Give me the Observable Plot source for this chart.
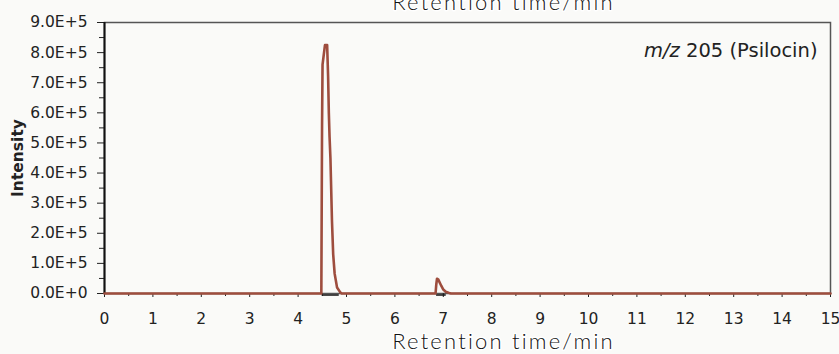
<!DOCTYPE html>
<html>
<head>
<meta charset="utf-8">
<script src="https://cdn.jsdelivr.net/npm/d3@7"></script>
<script src="https://cdn.jsdelivr.net/npm/@observablehq/plot@0.6"></script>
<style>
  html, body { margin: 0; padding: 0; background: #fafaf8; }
  #chart { width: 839px; height: 354px; overflow: hidden; }
  #chart svg { background: transparent !important; color: #222; }
</style>
</head>
<body>
<div id="chart"></div>
<script>
// Retention time (min) and intensity of the m/z 205 trace
const time = [0, 4.48, 4.495, 4.505, 4.555, 4.60, 4.62, 4.635, 4.65, 4.668, 4.70, 4.725, 4.755, 4.805, 4.875, 4.90,
              6.84, 6.855, 6.87, 6.895, 6.93, 6.96, 7.00, 7.05, 7.12, 7.16, 15];
const intensity = [0, 0, 5.6e5, 7.6e5, 8.25e5, 8.25e5, 7.2e5, 6.0e5, 5.2e5, 4.5e5, 2.4e5, 1.3e5, 0.66e5, 0.2e5, 0.03e5, 0,
                   0, 0.3e5, 0.49e5, 0.47e5, 0.35e5, 0.25e5, 0.13e5, 0.06e5, 0.02e5, 0, 0];

// Integration baselines under the peaks
const baseStart = [4.49, 6.85];
const baseEnd = [4.84, 7.05];

const xTicks = [0, 1, 2, 3, 4, 5, 6, 7, 8, 9, 10, 11, 12, 13, 14, 15];
const xTickLabels = ["0", "1", "2", "3", "4", "5", "6", "7", "8", "9", "10", "11", "12", "13", "14", "15"];
const xMinorTicks = [0.5, 1.5, 2.5, 3.5, 4.5, 5.5, 6.5, 7.5, 8.5, 9.5, 10.5, 11.5, 12.5, 13.5, 14.5];
const yTicks = [0, 1e5, 2e5, 3e5, 4e5, 5e5, 6e5, 7e5, 8e5, 9e5];
const yTickLabels = ["0.0E+0", "1.0E+5", "2.0E+5", "3.0E+5", "4.0E+5", "5.0E+5", "6.0E+5", "7.0E+5", "8.0E+5", "9.0E+5"];
const yMinorTicks = [0.5e5, 1.5e5, 2.5e5, 3.5e5, 4.5e5, 5.5e5, 6.5e5, 7.5e5, 8.5e5];

const xTitle = ["Retention time/min"];
const yTitle = ["Intensity"];
const traceLabel = ["m/z 205 (Psilocin)"];

const trace = time.map((t, i) => ({t, v: intensity[i]}));
const bases = baseStart.map((s, i) => ({s, e: baseEnd[i]}));

const titleFont = "Lato, 'DejaVu Sans', sans-serif";
const tickFont = "'DejaVu Sans', sans-serif";

const plot = Plot.plot({
  width: 839,
  height: 354,
  marginLeft: 104,
  marginRight: 9,
  marginTop: 22,
  marginBottom: 61,
  x: {domain: [0, 15]},
  y: {domain: [0, 9e5]},
  marks: [
    Plot.frame({stroke: "#555", strokeWidth: 1.5}),
    Plot.axisX({ticks: xMinorTicks, tickSize: 3, tickFormat: () => "", label: null}),
    Plot.axisX({ticks: xTicks, tickSize: 4, tickPadding: 15, fontSize: 15.5, fontFamily: tickFont, fill: "#222", tickFormat: d => xTickLabels[xTicks.indexOf(d)], label: null}),
    Plot.axisY({ticks: yMinorTicks, tickSize: 5, tickFormat: () => "", label: null}),
    Plot.axisY({ticks: yTicks, tickSize: 7, tickPadding: 10, fontSize: 15.5, fontFamily: tickFont, fill: "#222", tickFormat: d => yTickLabels[yTicks.indexOf(d)], label: null}),
    Plot.ruleX([0], {stroke: "#111", strokeWidth: 2}),
    Plot.link(bases, {x1: "s", x2: "e", y1: () => 0, y2: () => 0, stroke: "#111", strokeWidth: 1.5, dy: 1.5}),
    Plot.line(trace, {x: "t", y: "v", stroke: "#9e4d3e", strokeWidth: 2.6, curve: "linear"}),
    Plot.text(traceLabel, {frameAnchor: "top-right", text: d => d, dx: -13, dy: 28.5, textAnchor: "end", lineAnchor: "middle", fontSize: 19.5, fontFamily: tickFont, fill: "#222"}),
    Plot.text(yTitle, {frameAnchor: "left", text: d => d, rotate: -90, dx: -86, textAnchor: "middle", lineAnchor: "middle", fontWeight: "bold", fontSize: 15.5, fontFamily: tickFont, fill: "#222"}),
    Plot.text(xTitle, {frameAnchor: "bottom", text: d => d, dx: 36, dy: 48, textAnchor: "middle", lineAnchor: "middle", fontSize: 22, fontFamily: titleFont, fontWeight: 300, fill: "#111", stroke: "#ffffff", strokeWidth: 3}),
    Plot.text(xTitle, {frameAnchor: "top", text: d => d, dx: 36, dy: -20, textAnchor: "middle", lineAnchor: "middle", fontSize: 22, fontFamily: titleFont, fontWeight: 300, fill: "#111", stroke: "#ffffff", strokeWidth: 3})
  ]
});

const svg = d3.select(plot);
svg.selectAll("text").filter(function() { return this.textContent === traceLabel[0]; })
  .each(function() {
    const t = d3.select(this);
    const parts = traceLabel[0].split(" ");
    t.text(null);
    t.append("tspan").attr("font-style", "italic").text(parts[0]);
    t.append("tspan").text(" " + parts.slice(1).join(" "));
  });
svg.selectAll("text").filter(function() { return this.textContent === xTitle[0]; })
  .attr("letter-spacing", "2.2px").attr("paint-order", "stroke");

document.getElementById("chart").appendChild(plot);
</script>
</body>
</html>
